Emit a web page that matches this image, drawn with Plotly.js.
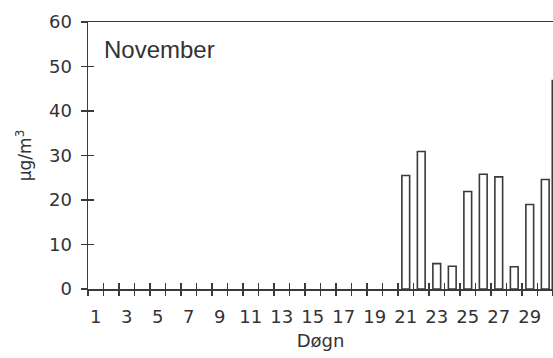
<!DOCTYPE html>
<html>
<head>
<meta charset="utf-8">
<script src="https://cdn.plot.ly/plotly-3.0.1.min.js"></script>
<style>html,body{margin:0;padding:0;background:#fff;}#chart{width:553px;height:358px;}</style>
</head>
<body>
<div id="chart"></div>
<script>
// Days of November
const days = [21, 22, 23, 24, 25, 26, 27, 28, 29, 30];
// Values in µg/m³
const values = [25.5, 30.9, 5.7, 5.1, 21.9, 25.8, 25.2, 5.0, 19.0, 24.6];
const xTickVals = [1, 3, 5, 7, 9, 11, 13, 15, 17, 19, 21, 23, 25, 27, 29];
const xTickText = ["1", "3", "5", "7", "9", "11", "13", "15", "17", "19", "21", "23", "25", "27", "29"];
const yTickVals = [0, 10, 20, 30, 40, 50, 60];
const panelLabel = "November";

const ink = '#3a3a3a';
const tickFont = {family: 'DejaVu Sans, Arial, sans-serif', size: 18, color: '#333'};
const xRange = [0.5, 30.5];

const data = [{
  type: 'bar',
  x: days,
  y: values,
  width: 0.5,
  marker: {color: '#ffffff', line: {color: ink, width: 1.6}},
  hoverinfo: 'skip'
}];

function tickAxis(dir) {
  return {
    overlaying: 'x', anchor: 'y', side: 'bottom',
    range: xRange,
    tickmode: 'linear', tick0: 0.5, dtick: 1,
    ticks: dir, ticklen: 6, tickwidth: 1.3, tickcolor: ink,
    showticklabels: false, showgrid: false, zeroline: false, showline: false,
    fixedrange: true
  };
}

const layout = {
  width: 553, height: 358,
  margin: {l: 88, r: 0, t: 22, b: 69},
  paper_bgcolor: '#ffffff', plot_bgcolor: '#ffffff',
  showlegend: false,
  xaxis: {
    range: xRange,
    tickmode: 'array', tickvals: xTickVals, ticktext: xTickText,
    ticks: '', showgrid: false, zeroline: false,
    showline: true, linecolor: ink, linewidth: 1.5, mirror: true,
    tickfont: tickFont, ticklabelstandoff: 11,
    title: {text: 'Døgn', font: {family: 'DejaVu Sans, Arial, sans-serif', size: 18, color: '#333'}, standoff: 8},
    fixedrange: true
  },
  xaxis2: tickAxis('outside'),
  xaxis3: tickAxis('inside'),
  yaxis: {
    range: [0, 60],
    tickmode: 'array', tickvals: yTickVals,
    ticks: 'outside', ticklen: 6, tickwidth: 1.3, tickcolor: ink,
    showgrid: false, zeroline: false,
    showline: true, linecolor: ink, linewidth: 1.5,
    tickfont: tickFont, ticklabelstandoff: 5,
    title: {text: 'µg/m<sup>3</sup>', font: {family: 'DejaVu Sans, Arial, sans-serif', size: 17, color: '#333'}, standoff: 13},
    fixedrange: true
  },
  yaxis2: {
    overlaying: 'y', anchor: 'x', side: 'left',
    range: [0, 60],
    tickmode: 'array', tickvals: yTickVals,
    ticks: 'inside', ticklen: 6, tickwidth: 1.3, tickcolor: ink,
    showticklabels: false, showgrid: false, zeroline: false, showline: false,
    fixedrange: true
  },
  shapes: [{
    type: 'line', xref: 'x', yref: 'y', x0: 30.45, x1: 30.45, y0: 0, y1: 47,
    line: {color: ink, width: 1.5}
  }],
  annotations: [{
    text: panelLabel, xref: 'paper', yref: 'paper', x: 0.03, y: 0.955,
    xanchor: 'left', yanchor: 'top', showarrow: false,
    font: {family: 'Liberation Sans, Arial, sans-serif', size: 24, color: '#333'}
  }]
};

// helper traces (no points) so the overlay tick axes are drawn
data.push({type: 'scatter', mode: 'none', x: [null], y: [null], xaxis: 'x2', yaxis: 'y2', hoverinfo: 'skip'});
data.push({type: 'scatter', mode: 'none', x: [null], y: [null], xaxis: 'x3', yaxis: 'y', hoverinfo: 'skip'});

Plotly.newPlot('chart', data, layout, {displayModeBar: false, staticPlot: true});
</script>
</body>
</html>
